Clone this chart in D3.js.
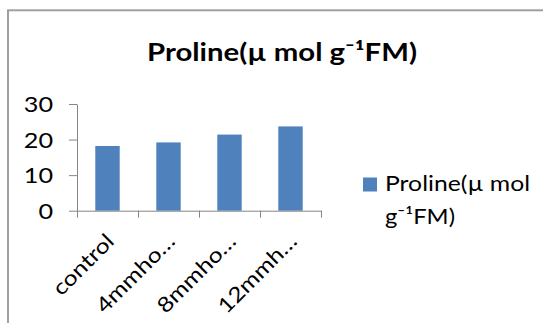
<!DOCTYPE html>
<html>
<head>
<meta charset="utf-8">
<script src="https://cdn.jsdelivr.net/npm/d3@7"></script>
<style>
    html, body { margin: 0; padding: 0; background: #fff; }
    svg text { font-family: Lato, "Open Sans", sans-serif; fill: #000; }
</style>
</head>
<body>
<div id="chart"></div>
<script>
    "use strict";

    // chart data
    const categories = ["control", "4mmhos/cm", "8mmhos/cm", "12mmhos/cm"];
    const tickLabels = ["control", "4mmho…", "8mmho…", "12mmh…"];
    const prolineValues = [18.2, 19.2, 21.4, 23.7];
    const yTicks = [0, 10, 20, 30];
    const titleText = "Proline(µ mol g⁻¹FM)";
    const legendLines = ["Proline(µ mol", "g⁻¹FM)"];

    const width = 543;
    const height = 323;
    const barColor = "#4F81BD";
    const axisColor = "#868686";

    let svg = d3.select("#chart").append("svg")
        .attr("width", width)
        .attr("height", height);

    // outer frame, runs off the right and bottom edges
    svg.append("rect")
        .attr("x", 8)
        .attr("y", 10.3)
        .attr("width", 700)
        .attr("height", 500)
        .attr("fill", "#fff")
        .attr("stroke", "#a0a0a0")
        .attr("stroke-width", 2);

    // title
    svg.append("text")
        .attr("x", 147)
        .attr("y", 61)
        .attr("textLength", 270)
        .attr("lengthAdjust", "spacingAndGlyphs")
        .style("font-size", "24px")
        .style("font-weight", "bold")
        .text(titleText);

    // plot area
    let plot = { left: 77, right: 321, top: 104, bottom: 210.7 };

    let yScale = d3.scaleLinear()
        .domain([0, 30])
        .range([plot.bottom, plot.top]);

    let xBand = d3.scaleBand()
        .domain(categories)
        .range([plot.left, plot.right])
        .paddingInner(0)
        .paddingOuter(0);

    let xEdge = d3.scaleLinear()
        .domain([0, categories.length])
        .range([plot.left, plot.right]);

    // bars
    let barWidth = xBand.bandwidth() * 0.4;
    svg.selectAll(".bar")
        .data(prolineValues)
        .enter()
        .append("rect")
        .attr("class", "bar")
        .attr("x", (d, i) => xBand(categories[i]) + (xBand.bandwidth() - barWidth) / 2)
        .attr("y", d => yScale(d))
        .attr("width", barWidth)
        .attr("height", d => yScale(0) - yScale(d))
        .attr("fill", barColor);

    // y-axis
    let yAxis = d3.axisLeft(yScale)
        .tickValues(yTicks)
        .tickSizeInner(8)
        .tickSizeOuter(0);

    let gy = svg.append("g")
        .attr("transform", "translate(" + plot.left + ",0)")
        .call(yAxis);
    gy.select(".domain").attr("stroke", axisColor);
    gy.selectAll(".tick line").attr("stroke", axisColor);
    gy.selectAll(".tick text")
        .style("font-size", "21px")
        .style("font-family", "Lato, sans-serif")
        .attr("transform", "scale(1.2,1)")
        .attr("x", -24 / 1.2)
        .attr("dy", "0.36em");

    // x-axis with ticks on category edges
    let xAxis = d3.axisBottom(xEdge)
        .tickValues(d3.range(categories.length + 1))
        .tickFormat("")
        .tickSizeInner(7)
        .tickSizeOuter(0);

    let gx = svg.append("g")
        .attr("transform", "translate(0," + plot.bottom + ")")
        .call(xAxis);
    gx.select(".domain").attr("stroke", axisColor);
    gx.selectAll(".tick line").attr("stroke", axisColor);

    // category labels, rotated
    let labelAxis = d3.axisBottom(xBand)
        .tickFormat((d, i) => tickLabels[i])
        .tickSize(0);

    let gl = svg.append("g")
        .attr("transform", "translate(0," + plot.bottom + ")")
        .call(labelAxis);
    gl.select(".domain").remove();
    gl.selectAll(".tick text")
        .style("font-size", "21px")
        .style("font-family", "Lato, sans-serif")
        .attr("text-anchor", "end")
        .attr("x", 0)
        .attr("y", 0)
        .attr("dy", 0)
        .attr("transform", "translate(8,32) rotate(-45) scale(1.18,1)");

    // legend
    let legend = svg.append("g");
    legend.append("rect")
        .attr("x", 363)
        .attr("y", 177.5)
        .attr("width", 14)
        .attr("height", 14)
        .attr("fill", barColor);
    legend.append("text")
        .attr("x", 385)
        .attr("y", 191)
        .attr("textLength", 145)
        .attr("lengthAdjust", "spacingAndGlyphs")
        .style("font-size", "22px")
        .text(legendLines[0]);
    legend.append("text")
        .attr("x", 385)
        .attr("y", 224)
        .attr("textLength", 70)
        .attr("lengthAdjust", "spacingAndGlyphs")
        .style("font-size", "22px")
        .text(legendLines[1]);
</script>
</body>
</html>
